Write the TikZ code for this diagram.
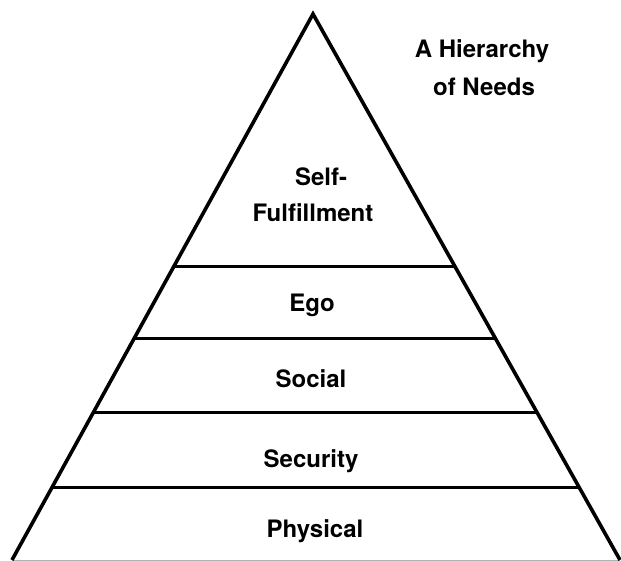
\documentclass[tikz,border=0pt]{standalone}
\usepackage{fontspec}
\setmainfont{TeX Gyre Heros}
\usetikzlibrary{calc}
\begin{document}
\begin{tikzpicture}[x=1pt,y=-1pt,
  edge/.style={line width=3.6pt,line join=miter},
  level/.style={line width=3pt},
  lbl/.style={anchor=base,font=\fontsize{24}{36}\selectfont\bfseries,inner sep=0pt}]
\useasboundingbox (0,0) rectangle (621,561);
\coordinate (apex) at (313,14);
\coordinate (bl) at (12,560);
\coordinate (br) at (620,560);
% base line (faint)
\draw[gray!60,line width=1pt] (bl) -- (br);
% level lines
\foreach \yy/\nm in {267/a,339/b,413/c,488/d}{
  \pgfmathsetmacro{\t}{(\yy-14)/546}
  \coordinate (L\nm) at ($(apex)!\t!(bl)$);
  \coordinate (R\nm) at ($(apex)!\t!(br)$);
  \draw[level] (L\nm) -- (R\nm);
}
\draw[edge] (bl) -- (apex) -- (br);
% labels
\node[lbl] (t1) at (482,58) {A Hierarchy};
\node[lbl] (t2) at (484,96) {of Needs};
\node[lbl] (self) at (321,186) {Self-};
\node[lbl] (ful) at (313,222) {Fulfillment};
\node[lbl] (ego) at (312,312) {Ego};
\node[lbl] (soc) at (311,387) {Social};
\node[lbl] (sec) at (311,467) {Security};
\node[lbl] (phy) at (315,537) {Physical};
\end{tikzpicture}
\end{document}
